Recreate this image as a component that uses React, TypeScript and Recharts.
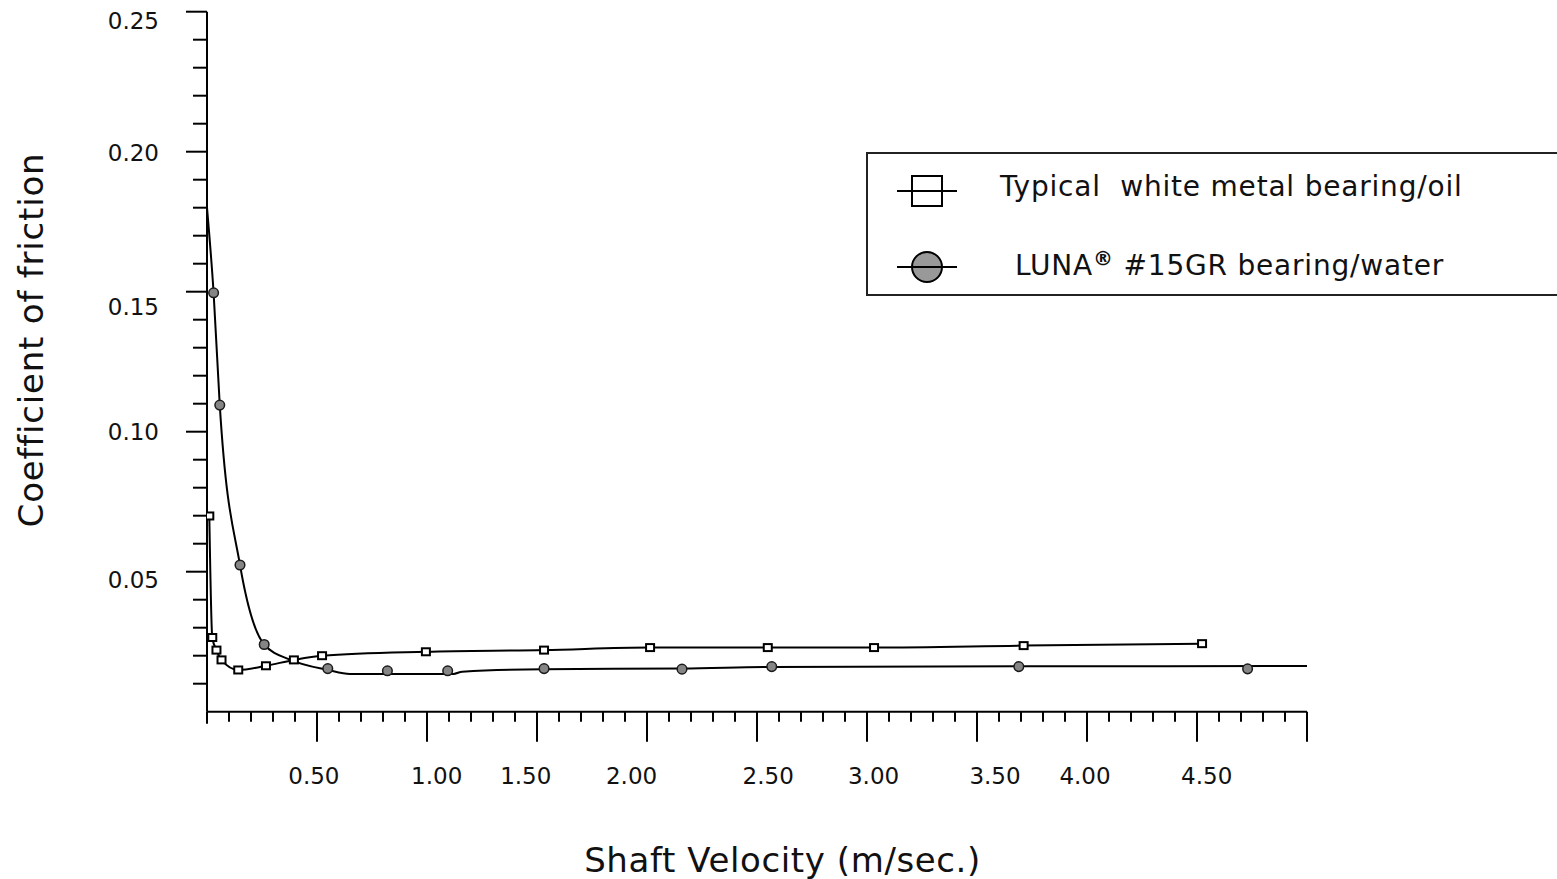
import { ComposedChart, Line, Scatter, XAxis, YAxis, Legend, Label } from 'recharts'

// measured points, typical white metal bearing / oil (x: m/sec, y: friction coefficient)
const oilX = [0.0105, 0.024, 0.043, 0.066, 0.142, 0.268, 0.395, 0.523, 0.995, 1.532, 2.014, 2.549, 3.032, 3.712, 4.523]
const oilY = [0.0699, 0.0265, 0.022, 0.0185, 0.0149, 0.0164, 0.0185, 0.02, 0.0214, 0.022, 0.0229, 0.0229, 0.0229, 0.0236, 0.0243]

// measured points, LUNA #15GR bearing / water
const waterX = [0.03, 0.058, 0.15, 0.26, 0.549, 0.82, 1.094, 1.532, 2.159, 2.567, 3.69, 4.73]
const waterY = [0.1496, 0.1095, 0.0524, 0.024, 0.0154, 0.0146, 0.0146, 0.0154, 0.0152, 0.0161, 0.0161, 0.0153]

// fitted curve through the water points, as drawn in the source
const waterFitX = [0, 0.03, 0.058, 0.15, 0.26, 0.38, 0.55, 0.65, 1.12, 1.16, 1.53, 2.16, 2.57, 3.69, 5.0]
const waterFitY = [0.18, 0.1496, 0.1095, 0.0524, 0.024, 0.0185, 0.0149, 0.0135, 0.0135, 0.0143, 0.0152, 0.0154, 0.016, 0.0162, 0.0163]

// tick labels and where they sit on the axis (the source drew them a bit off the major ticks)
const xLabels = ['0.50', '1.00', '1.50', '2.00', '2.50', '3.00', '3.50', '4.00', '4.50']
const xLabelAt = [0.486, 1.044, 1.449, 1.93, 2.551, 3.03, 3.582, 3.991, 4.544]
const yLabels = ['0.25', '0.20', '0.15', '0.10', '0.05']
const yLabelAt = [0.2467, 0.1995, 0.1445, 0.1, 0.047]

const seriesNames = ['Typical  white metal bearing/oil', 'LUNA® #15GR bearing/water']

const xMinorTicks = Array.from({ length: 51 }, (_, i) => i / 10)
const yMinorTicks = Array.from({ length: 26 }, (_, i) => i / 100)
const xAllTicks = [...xMinorTicks, ...xLabelAt].sort((a, b) => a - b)

const oilData = oilX.map((x, i) => ({ x, y: oilY[i] }))
const waterData = waterX.map((x, i) => ({ x, y: waterY[i] }))
const waterFit = waterFitX.map((x, i) => ({ x, y: waterFitY[i] }))

const FONT = 'DejaVu Sans'

function XTick({ x, y, payload }: any) {
  const li = xLabelAt.indexOf(payload.value)
  if (li >= 0) {
    return (
      <text x={x} y={y + 72} textAnchor="middle" fontFamily={FONT} fontSize={23} fill="#111">
        {xLabels[li]}
      </text>
    )
  }
  const v = Math.round(payload.value * 10)
  const len = v === 0 ? 12 : v % 5 === 0 ? 30 : 10
  return <line x1={x} y1={y} x2={x} y2={y + len} stroke="#000" strokeWidth={2} />
}

function YTick({ x, y, payload }: any) {
  const v = Math.round(payload.value * 100)
  if (v === 0) return <g />
  const len = v % 5 === 0 ? 21 : 14
  return <line x1={x} y1={y} x2={x - len} y2={y} stroke="#000" strokeWidth={2} />
}

function SquareDot({ cx, cy }: any) {
  return <rect x={cx - 4} y={cy - 3.5} width={8} height={7} fill="#fff" stroke="#000" strokeWidth={2} />
}

function CircleDot({ cx, cy }: any) {
  return <circle cx={cx} cy={cy} r={4.8} fill="#858585" stroke="#1a1a1a" strokeWidth={1.5} />
}

function LegendBox() {
  const [reg, rest] = seriesNames[1].split('®')
  return (
    <svg width={691} height={146} style={{ display: 'block' }}>
      <rect x={1} y={1} width={720} height={142} fill="#fff" stroke="#222" strokeWidth={2} />
      <rect x={46} y={24} width={30} height={30} fill="#fff" stroke="#000" strokeWidth={2} />
      <line x1={31} y1={39} x2={91} y2={39} stroke="#000" strokeWidth={2} />
      <circle cx={61} cy={115} r={15} fill="#999" stroke="#000" strokeWidth={2} />
      <line x1={31} y1={115} x2={91} y2={115} stroke="#000" strokeWidth={2} />
      <text x={134} y={44} fontFamily={FONT} fontSize={28} letterSpacing={0.8} fill="#111" style={{ whiteSpace: 'pre' }}>
        {seriesNames[0]}
      </text>
      <text x={149} y={123} fontFamily={FONT} fontSize={28} letterSpacing={0.8} fill="#111" style={{ whiteSpace: 'pre' }}>
        <tspan>{reg}</tspan>
        <tspan dy={-10} fontSize={20} fontWeight="bold">®</tspan>
        <tspan dy={10}>{rest}</tspan>
      </text>
    </svg>
  )
}

export default function App() {
  return (
    <div style={{ position: 'absolute', left: 0, top: 0 }}>
      <ComposedChart width={1557} height={879} margin={{ top: 11.7, right: 250, bottom: 87.3, left: 37 }}>
        <XAxis
          dataKey="x"
          type="number"
          domain={[0, 5]}
          allowDataOverflow
          ticks={xAllTicks}
          interval={0}
          tick={XTick}
          tickLine={false}
          tickSize={0}
          tickMargin={0}
          height={80}
          axisLine={{ stroke: '#000', strokeWidth: 2 }}
        >
          <Label
            content={() => (
              <text x={782.5} y={871.5} textAnchor="middle" fontFamily={FONT} fontSize={34} letterSpacing={0.6} fill="#111">
                Shaft Velocity (m/sec.)
              </text>
            )}
          />
        </XAxis>
        <YAxis
          dataKey="y"
          type="number"
          domain={[0, 0.25]}
          allowDataOverflow
          ticks={yMinorTicks}
          interval={0}
          tick={YTick}
          tickLine={false}
          tickSize={0}
          tickMargin={0}
          width={20}
          axisLine={{ stroke: '#000', strokeWidth: 2 }}
        />
        <YAxis
          yAxisId="lab"
          type="number"
          domain={[0, 0.25]}
          allowDataOverflow
          ticks={yLabelAt}
          interval={0}
          tickFormatter={(v: number) => yLabels[yLabelAt.indexOf(v)] ?? ''}
          tick={{ fontSize: 23, fill: '#111', fontFamily: FONT }}
          tickLine={false}
          axisLine={false}
          tickSize={0}
          tickMargin={28}
          width={150}
        >
          <Label
            content={() => (
              <text
                x={43}
                y={340}
                transform="rotate(-90 43 340)"
                textAnchor="middle"
                fontFamily={FONT}
                fontSize={34}
                letterSpacing={0.8}
                fill="#111"
              >
                Coefficient of friction
              </text>
            )}
          />
        </YAxis>
        <Legend
          layout="vertical"
          align="center"
          verticalAlign="middle"
          wrapperStyle={{ left: 866, top: 152, width: 691, height: 146 }}
          content={LegendBox}
        />
        <Line data={oilData} dataKey="y" type="monotone" stroke="#000" strokeWidth={2} dot={false} activeDot={false} isAnimationActive={false} />
        <Line data={waterFit} dataKey="y" type="monotone" stroke="#000" strokeWidth={2} dot={false} activeDot={false} isAnimationActive={false} />
        <Scatter data={oilData} dataKey="y" shape={SquareDot} isAnimationActive={false} />
        <Scatter data={waterData} dataKey="y" shape={CircleDot} isAnimationActive={false} />
      </ComposedChart>
    </div>
  )
}
